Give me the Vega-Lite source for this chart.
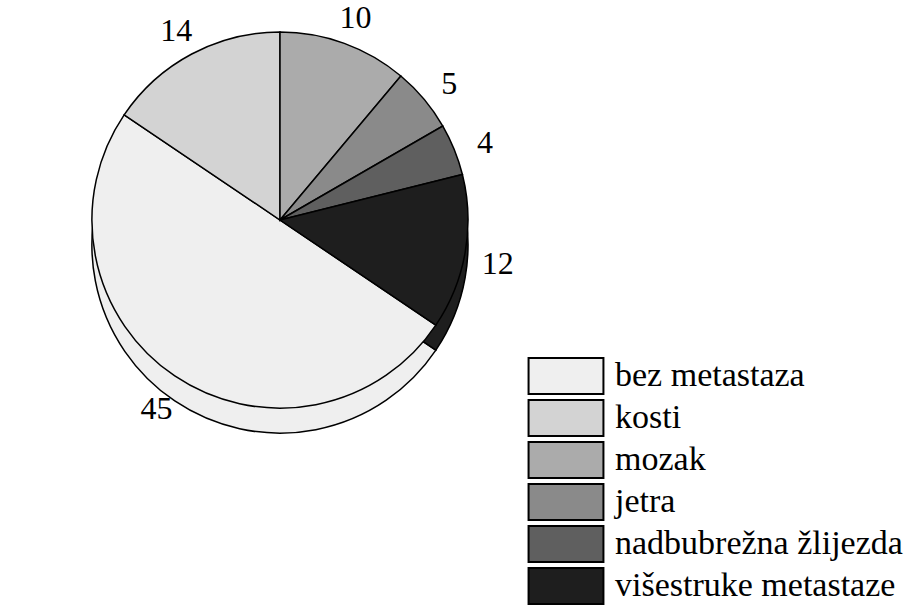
{
  "$schema": "https://vega.github.io/schema/vega-lite/v6.json",
  "width": 560,
  "height": 440,
  "autosize": {"type": "none"},
  "padding": {"left": 0, "top": 0, "right": 352, "bottom": 165},
  "background": "white",
  "config": {"view": {"stroke": null}, "font": "Liberation Serif"},
  "data": {
    "values": [
      {"category": "bez metastaza", "count": 45},
      {"category": "kosti", "count": 14},
      {"category": "mozak", "count": 10},
      {"category": "jetra", "count": 5},
      {"category": "nadbubrežna žlijezda", "count": 4},
      {"category": "višestruke metastaze", "count": 12}
    ]
  },
  "transform": [{"window": [{"op": "row_number", "as": "k"}]}],
  "encoding": {
    "theta": {"field": "count", "type": "quantitative", "stack": true, "scale": {"range": [2.1642, 8.4474]}},
    "order": {"field": "k", "type": "quantitative"},
    "color": {
      "field": "category",
      "type": "nominal",
      "sort": null,
      "scale": {
        "domain": ["bez metastaza", "kosti", "mozak", "jetra", "nadbubrežna žlijezda", "višestruke metastaze"],
        "range": ["#efefef", "#d3d3d3", "#ababab", "#8a8a8a", "#5f5f5f", "#1e1e1e"]
      },
      "legend": {
        "orient": "none",
        "legendX": 547,
        "legendY": 357,
        "title": null,
        "symbolType": "M-2.08,-1H2.08V1H-2.08Z",
        "symbolSize": 1296,
        "symbolStrokeColor": "black",
        "symbolStrokeWidth": 2,
        "symbolOpacity": 1,
        "labelFontSize": 34,
        "labelFont": "Liberation Serif, Times New Roman, serif",
        "labelColor": "black",
        "labelLimit": 400,
        "labelOffset": 30,
        "rowPadding": -2
      }
    }
  },
  "layer": [
    {"mark": {"type": "arc", "outerRadius": 188, "yOffset": 25, "stroke": "black", "strokeWidth": 1.5}},
    {"mark": {"type": "arc", "outerRadius": 188, "stroke": "black", "strokeWidth": 1.5}},
    {
      "mark": {"type": "text", "radius": 221, "yOffset": 6, "fontSize": 32, "font": "Liberation Serif, Times New Roman, serif"},
      "encoding": {"text": {"field": "count", "type": "quantitative"}, "color": {"value": "black"}}
    }
  ]
}
